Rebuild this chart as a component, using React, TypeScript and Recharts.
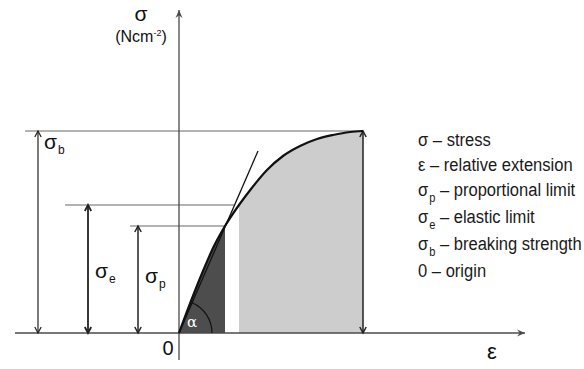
import React from 'react';
import { ComposedChart, XAxis, YAxis, Line, Area, ReferenceLine, ReferenceDot } from 'recharts';

// stress–strain curve (arbitrary units)
const curveStrain = [0, 12, 24, 35, 46, 60, 72, 88, 104, 121, 138, 154, 171, 184];
const curveStress = [0, 32, 62, 87, 107, 128, 144, 163, 177, 187, 194, 198, 201, 202];

const strainP = 46;   // proportional limit
const strainE = 60;   // elastic limit
const strainB = 184;  // breaking point
const stressP = 107;
const stressE = 128;
const stressB = 202;

// straight line through the proportional region
const tangentStrain = [0, 79];
const tangentStress = [0, 182];

const legendSymbols = ['σ', 'ε', 'σ', 'σ', 'σ', '0'];
const legendSubs = ['', '', 'p', 'e', 'b', ''];
const legendTexts = ['stress', 'relative extension', 'proportional limit', 'elastic limit', 'breaking strength', 'origin'];

const curve = curveStrain.map((e, i) => ({ e, s: curveStress[i] }));
const darkPart = curve.filter((d) => d.e <= strainP);
const lightPart = curve.filter((d) => d.e >= strainE);
const tangent = tangentStrain.map((e, i) => ({ e, s: tangentStress[i] }));

const W = 584;
const H = 369;

type Heads = 'none' | 'start' | 'end' | 'both' | 'axis';

const arrowLine = (stroke: string, width: number, heads: Heads) => (p: any) => {
  const { x1, y1, x2, y2 } = p;
  const len = Math.hypot(x2 - x1, y2 - y1) || 1;
  const ux = (x2 - x1) / len;
  const uy = (y2 - y1) / len;
  const nx = -uy;
  const ny = ux;
  const chevron = (tx: number, ty: number, dir: number) => {
    const L = 6;
    const Wd = 3.2;
    const bx = tx - dir * ux * L;
    const by = ty - dir * uy * L;
    return (
      <polyline
        points={`${bx + nx * Wd},${by + ny * Wd} ${tx},${ty} ${bx - nx * Wd},${by - ny * Wd}`}
        fill="none"
        stroke={stroke}
        strokeWidth={width}
      />
    );
  };
  let headEls: React.ReactNode = null;
  if (heads === 'axis') {
    const L = 8;
    const Wd = 3.5;
    const bx = x2 - ux * L;
    const by = y2 - uy * L;
    const mx = x2 - ux * L * 0.65;
    const my = y2 - uy * L * 0.65;
    headEls = (
      <path
        d={`M${x2},${y2} L${bx + nx * Wd},${by + ny * Wd} L${mx},${my} L${bx - nx * Wd},${by - ny * Wd} Z`}
        fill={stroke}
      />
    );
  } else if (heads === 'start') headEls = chevron(x1, y1, -1);
  else if (heads === 'end') headEls = chevron(x2, y2, 1);
  else if (heads === 'both') headEls = <>{chevron(x1, y1, -1)}{chevron(x2, y2, 1)}</>;
  return (
    <g>
      <line x1={x1} y1={y1} x2={x2} y2={y2} stroke={stroke} strokeWidth={width} />
      {headEls}
    </g>
  );
};

const sans = 'Liberation Sans, Arial, sans-serif';

const sigmaLabel = (sub: string) => (p: any) => (
  <text x={p.cx} y={p.cy} fontFamily={sans} fontSize={21} fill="#111">
    σ
    <tspan dx={1} dy={5} fontSize={12}>{sub}</tspan>
  </text>
);

const plainLabel = (txt: string, size: number, family: string, color = '#111') => (p: any) => (
  <text x={p.cx} y={p.cy} fontFamily={family} fontSize={size} fill={color} textAnchor="middle">
    {txt}
  </text>
);

const unitLabel = (p: any) => (
  <text x={p.cx} y={p.cy} fontFamily={sans} fontSize={16} fill="#111" textAnchor="middle">
    (Ncm<tspan dy={-6} fontSize={9}>-2</tspan>
    <tspan dy={6}>)</tspan>
  </text>
);

const angleArc = (p: any) => {
  const r = 33;
  const theta = Math.atan2(tangentStress[1], tangentStrain[1]);
  const ex = p.cx + r * Math.cos(theta);
  const ey = p.cy - r * Math.sin(theta);
  return (
    <path d={`M${p.cx + r},${p.cy} A${r},${r} 0 0 0 ${ex},${ey}`} fill="none" stroke="#111" strokeWidth={1.2} />
  );
};

const guide = '#9a9a9a';
const axisColor = '#4a4a4a';

export default function App() {
  return (
    <div style={{ position: 'absolute', left: 0, top: 0, width: W, height: H, background: '#fff', pointerEvents: 'none' }}>
      <ComposedChart width={W} height={H} margin={{ top: 0, right: 0, bottom: 0, left: 0 }}>
        <XAxis dataKey="e" type="number" domain={[-179, 405]} allowDataOverflow hide />
        <YAxis type="number" domain={[-36, 333]} allowDataOverflow hide />

        <Area data={darkPart} dataKey="s" type="monotone" fill="#4d4d4d" fillOpacity={1} stroke="none" baseValue={0} activeDot={false} isAnimationActive={false} />
        <Area data={lightPart} dataKey="s" type="monotone" fill="#cdcdcd" fillOpacity={1} stroke="none" baseValue={0} activeDot={false} isAnimationActive={false} />

        {/* guide lines */}
        <ReferenceLine segment={[{ x: -154, y: stressB }, { x: strainB, y: stressB }]} ifOverflow="visible" shape={arrowLine(guide, 1.5, 'none')} />
        <ReferenceLine segment={[{ x: -114, y: stressE }, { x: 56, y: stressE }]} ifOverflow="visible" shape={arrowLine(guide, 1.5, 'none')} />
        <ReferenceLine segment={[{ x: -49, y: stressP }, { x: strainP, y: stressP }]} ifOverflow="visible" shape={arrowLine(guide, 1.5, 'none')} />

        {/* axes */}
        <ReferenceLine segment={[{ x: -164, y: 0 }, { x: 346, y: 0 }]} ifOverflow="visible" shape={arrowLine(axisColor, 1.3, 'axis')} />
        <ReferenceLine segment={[{ x: 0, y: -27 }, { x: 0, y: 323 }]} ifOverflow="visible" shape={arrowLine(axisColor, 1.3, 'axis')} />

        {/* dimension arrows */}
        <ReferenceLine segment={[{ x: -141, y: 0 }, { x: -141, y: stressB }]} ifOverflow="visible" shape={arrowLine('#222', 1.2, 'both')} />
        <ReferenceLine segment={[{ x: -91, y: 0 }, { x: -91, y: stressE }]} ifOverflow="visible" shape={arrowLine('#222', 1.8, 'both')} />
        <ReferenceLine segment={[{ x: -41, y: 0 }, { x: -41, y: stressP }]} ifOverflow="visible" shape={arrowLine('#222', 1.5, 'both')} />
        <ReferenceLine segment={[{ x: strainB, y: 0 }, { x: strainB, y: stressB }]} ifOverflow="visible" shape={arrowLine('#222', 1.5, 'both')} />

        <Line data={tangent} dataKey="s" type="linear" stroke="#111" strokeWidth={1.3} dot={false} activeDot={false} isAnimationActive={false} />
        <Line data={curve} dataKey="s" type="monotone" stroke="#111" strokeWidth={2.2} dot={false} activeDot={false} isAnimationActive={false} />

        <ReferenceDot x={0} y={0} r={0} ifOverflow="visible" shape={angleArc} />
        <ReferenceDot x={13} y={6} r={0} ifOverflow="visible" shape={plainLabel('α', 15, 'DejaVu Serif, serif', '#fff')} />

        <ReferenceDot x={-135} y={184} r={0} ifOverflow="visible" shape={sigmaLabel('b')} />
        <ReferenceDot x={-84} y={55} r={0} ifOverflow="visible" shape={sigmaLabel('e')} />
        <ReferenceDot x={-34} y={50} r={0} ifOverflow="visible" shape={sigmaLabel('p')} />

        <ReferenceDot x={-38} y={312} r={0} ifOverflow="visible" shape={plainLabel('σ', 21, sans)} />
        <ReferenceDot x={-38} y={291} r={0} ifOverflow="visible" shape={unitLabel} />
        <ReferenceDot x={-11} y={-22} r={0} ifOverflow="visible" shape={plainLabel('0', 20, sans)} />
        <ReferenceDot x={313} y={-26} r={0} ifOverflow="visible" shape={plainLabel('ε', 22, sans)} />
      </ComposedChart>

      <div
        style={{
          position: 'absolute',
          left: 418,
          top: 128,
          fontFamily: sans,
          fontSize: 18,
          lineHeight: '25px',
          color: '#1a1a1a',
          whiteSpace: 'nowrap',
          transform: 'scaleX(0.92)',
          transformOrigin: 'left top',
        }}
      >
        {legendTexts.map((t, i) => (
          <div key={t}>
            {legendSymbols[i]}
            {legendSubs[i] && (
              <span style={{ fontSize: 12, position: 'relative', top: 6, marginLeft: 1 }}>{legendSubs[i]}</span>
            )}
            {' – '}
            {t}
          </div>
        ))}
      </div>
    </div>
  );
}
